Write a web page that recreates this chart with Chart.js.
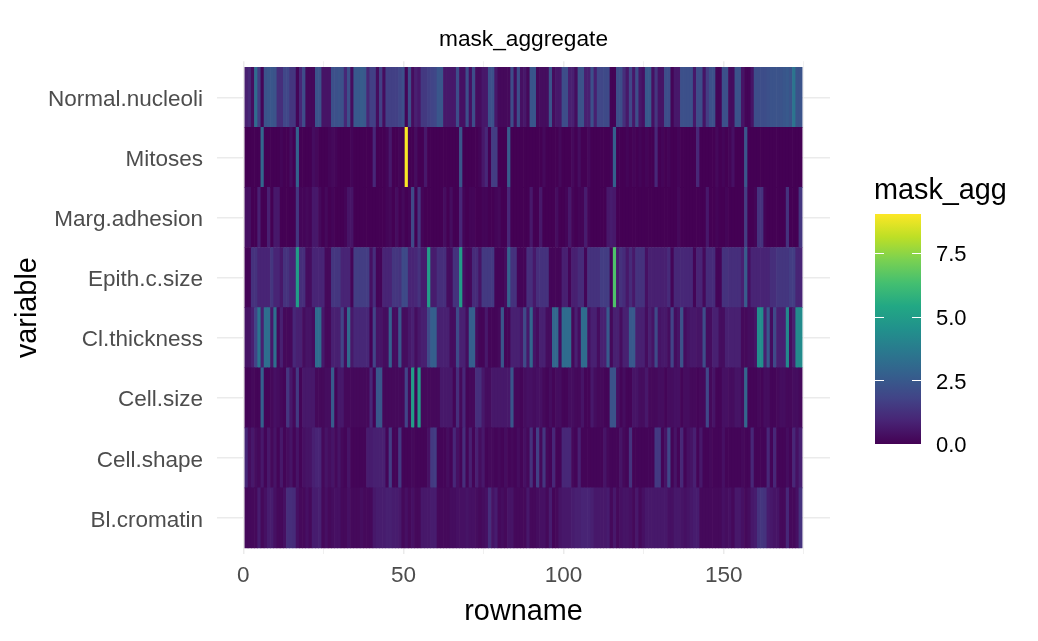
<!DOCTYPE html>
<html>
<head>
<meta charset="utf-8">
<style>
  html, body { margin: 0; padding: 0; background: #fff; }
  canvas { display: block; }
</style>
<script src="https://cdn.jsdelivr.net/npm/chart.js@4"></script>
</head>
<body>
<canvas id="chart" width="1038" height="641"></canvas>
<script>
const variables = ['Bl.cromatin','Cell.shape','Cell.size','Cl.thickness','Epith.c.size','Marg.adhesion','Mitoses','Normal.nucleoli'];
const xTickLabels = [0, 50, 100, 150];
const legendTicks = [0, 2.5, 5, 7.5];

const blCromatin = [
  .2,.2,.2,.2,.7,.2,.4,.7,.7,.4,
  .2,.2,.4,1.2,1.2,1.1,.4,.2,.2,.4,
  .2,.7,.7,.8,.2,.4,.2,.3,.4,.4,
  .2,.2,.4,.2,.2,.2,.3,.2,.2,.2,
  .6,.7,.7,.7,.8,.8,.7,.7,.6,.2,
  .4,.2,.4,.2,.2,.6,.6,.6,.7,.7,
  .2,.2,.2,.2,.3,.3,.4,.4,.4,.5,
  .4,.4,.3,.2,.3,.4,1.2,.5,.7,.2,
  .3,.2,.5,.5,.2,.2,.2,.2,.6,.2,
  .2,.3,.4,.4,.2,.7,.1,.2,.5,.6,
  .6,.6,.7,.8,.8,.9,.9,.9,.8,.6,
  .6,.6,.6,.7,.2,.6,.2,.4,.5,.5,
  .4,.2,.6,.2,.4,.6,.6,.6,.6,.6,
  .6,.6,.4,.4,.6,.6,.5,.4,.5,.6,
  .7,.7,.2,.2,.2,.2,.2,.2,.2,.4,
  .3,.4,.2,.6,.6,.4,.2,.3,.6,.7,
  1.3,1.4,1.3,.7,.6,.5,.5,.2,.2,1,
  .2,.2,.4,1.3
];
const cellShape = [
  1,.3,.6,.3,.2,.6,.1,.6,.2,.5,
  .1,.6,.1,.3,.5,.1,.5,.1,.4,.5,
  .5,.8,.9,.9,.2,.5,.3,.5,.2,.5,
  .2,.1,.5,.1,.1,.1,.1,.1,.7,.7,
  .8,.8,.8,.8,.1,1.6,.1,.1,1.5,.1,
  .1,.1,.2,.1,.1,.1,.1,.4,1.5,1.6,
  .1,.1,.1,.3,.1,1,.4,.1,1.2,.1,
  .8,.1,.8,.3,.6,.1,.2,.2,.1,.2,
  .1,.3,.1,.2,.1,.3,.1,.4,.2,1.3,
  .1,1.7,.2,1.4,.2,.1,1,.1,.1,1,
  1,1,.2,.1,.8,.1,.1,.1,.1,.1,
  .1,.1,.5,.2,.1,.1,.1,.5,.2,.1,
  1.3,.1,.1,.1,.1,.1,.1,.1,1.5,1.5,
  .1,.5,1.9,.1,.5,.1,1,.1,.4,.5,
  .8,.1,.6,.1,.1,.2,.1,.1,.1,.4,
  .1,.1,.1,.1,.1,.2,.1,.1,1,.1,
  .1,.1,.1,1,.1,1,.1,.1,.1,.3,
  .1,1,.4,.8
];
const cellSize = [
  .1,.1,.2,.1,.1,2.8,.1,.1,.2,.4,
  .3,.2,.1,1.4,.6,.2,1.5,.1,.6,.6,
  .6,.6,.2,.2,.2,.3,.3,2.6,.1,.6,
  .6,.2,.2,.2,.2,.2,.2,.2,.2,1,
  .05,2.4,2.4,.2,.2,.2,.2,.2,.2,.2,
  1.8,.2,5,.1,5,.2,.2,.2,.2,.2,
  .2,.6,.6,.6,.6,.1,1.2,.2,1,.1,
  .2,.2,1.2,1.2,.6,.3,.3,.6,.6,.6,
  .6,.6,.6,2.4,.2,.2,.1,.3,.4,.4,
  .3,.4,.4,.2,.1,.3,.1,.3,.3,.1,
  .1,.3,.3,.2,.2,.5,.1,.1,.6,.3,
  .2,.2,.1,.1,2.3,2.3,.4,.1,.3,.1,
  .1,.5,.5,.3,.3,.6,.2,.2,.2,.3,
  .3,.1,.3,.3,.4,.4,.1,.3,.3,.2,
  .2,.1,.2,.2,1.9,.2,.5,.1,.1,.4,
  .4,.3,.3,.5,.5,.3,3,.1,.1,.1,
  .2,.1,.3,.3,.1,.1,.2,.3,.3,.2,
  .2,.3,.3,.2
];
const clThickness = [
  .5,.5,.8,1.8,3.5,.8,3.3,3.3,.6,3.3,
  .2,.8,.2,.2,.2,1,.8,.8,.3,.5,
  .5,.3,3.2,3.2,.6,.2,.2,.8,.8,.8,
  1.8,.3,3.1,.6,1,1,1,1,1,.05,
  1.8,.5,.5,.3,.3,2.8,.3,.3,2.4,.3,
  .3,.6,.8,.3,.6,.8,.8,2,2.7,2.7,
  .8,.8,.8,.8,.3,.3,2,.8,.8,.3,
  2.7,2.7,.3,.1,.1,.6,.1,.1,.1,.2,
  2.4,.1,.1,.8,.8,.8,.6,2,.6,3,
  .5,.3,.8,.8,.3,.3,3,3,.3,3.2,
  3.2,3.2,.2,.8,.3,3.2,3.2,.4,.8,.8,
  .3,.8,.8,2.5,.2,.8,.8,.3,.8,.8,
  2.5,2.5,.8,.8,.8,.3,.8,.5,2,.5,
  .6,.6,.3,1.8,.3,.5,2.3,.3,.5,.6,
  .6,.5,.5,2.1,.3,.3,.8,.8,.3,.3,
  .8,.8,.8,.8,.8,.2,.2,.3,.3,.5,
  4.4,4.4,.8,2.4,.3,2,.8,.8,.8,4.2,
  .3,.8,4.3,4.3
];
const epithSize = [
  .1,.1,1.3,1.3,.9,.9,.9,.9,1.4,.9,
  .9,.6,1.3,1.3,.9,.9,5,1.2,1.2,.3,
  .3,.9,.9,.9,.9,.2,.2,1.4,1.4,1.4,
  .9,.9,.9,.1,1.6,1.6,1.6,1.6,1.6,.4,
  1.2,.1,.1,.9,.9,.9,1.4,1.4,1.3,2,
  2,.9,.9,1,1.3,.7,.7,5,.7,.7,
  1.2,1.2,1.2,.3,.3,1.3,1.3,5,.4,.2,
  .2,1.1,1.1,.5,1.5,1.5,1.5,1.5,.1,.1,
  .1,.3,2.8,1.3,1.3,.1,.1,.1,1.2,1.2,
  .6,1.2,1.3,1.3,1.3,.1,.1,.1,.1,.8,
  .8,.1,.8,.8,1.1,1.1,.1,1.3,1.3,1.3,
  1.3,1.6,1.6,1.6,.1,6.5,.7,1.3,1.1,.6,
  1.1,.6,1.3,1.3,1.3,.4,.8,.8,.8,.8,
  .8,.8,1.1,.1,1,1,1,1,1,1,
  .1,.9,.9,.2,1.1,1.1,1.1,.1,.1,1.3,
  1.3,1.2,1.2,1.2,1.2,.8,2.6,.4,.9,.9,
  .9,.9,.9,.9,1.2,1.2,1.4,1.4,1.4,1.4,
  1.6,1.6,.9,.9
];
const margAdhesion = [
  .4,.4,0,0,.8,0,0,.8,0,.6,
  .6,0,0,0,0,0,1.4,.1,.1,.2,
  .1,.6,.6,.2,0,.2,0,.1,0,0,
  0,.1,.5,.5,0,0,0,0,0,0,
  0,0,0,0,.1,.2,0,.3,0,.2,
  0,.1,2,0,1.4,.1,0,0,0,0,
  0,0,.3,0,.3,0,0,1,.1,0,
  .1,.1,0,0,.1,.1,0,0,.1,.2,
  0,0,1,0,0,0,0,0,0,.6,
  0,0,.6,0,0,0,0,.3,0,0,
  .1,.6,.1,0,.1,.1,.7,.1,0,0,
  0,0,0,.6,.7,.6,0,0,0,0,
  0,0,0,0,0,0,0,0,0,0,
  0,0,0,0,0,.2,0,0,0,0,
  0,0,0,0,.6,0,0,.1,0,0,
  .1,0,0,0,0,0,1.6,0,0,.1,
  1.3,1.3,.1,0,0,0,0,0,0,1.3,
  0,0,0,1.4
];
const mitoses = [
  0,0,0,0,0,3,0,0,0,0,
  0,.1,0,0,.3,0,2.8,0,0,0,
  0,.3,.2,0,0,0,.1,.2,.1,0,
  0,0,0,.1,0,0,0,0,0,0,
  1,0,0,0,.1,.6,0,0,.1,0,
  9,0,0,.3,0,0,.6,0,0,0,
  0,0,0,0,0,0,0,2.4,0,0,
  0,0,0,.1,.6,1,0,1.6,1.6,0,
  0,0,2.6,0,0,0,0,0,0,0,
  0,0,0,.2,0,0,0,0,.2,0,
  0,0,.2,0,.3,0,0,.2,0,0,
  0,0,0,0,.1,2.8,0,0,0,.1,
  0,.1,0,.1,0,.1,0,0,1,0,
  .1,0,.1,0,0,.1,0,0,0,0,
  0,1,0,0,0,0,0,.2,0,.1,
  0,.1,.4,0,0,0,2.4,0,0,0,
  0,0,0,0,0,0,0,0,0,0,
  0,0,0,0
];
const normalNucleoli = [
  .8,1,.3,3.2,1.6,.1,2.3,2.4,2.4,2.3,
  1.2,1.2,1.9,1.9,1.4,1.4,.1,1,2.1,.2,
  .2,.2,2.3,2.3,.5,.5,.5,2.2,2.2,2.3,
  2.2,1,2.2,.3,2.5,2.5,2.6,2.5,1,1.7,
  1.7,.3,1.7,.3,1.7,1.7,1.7,1.7,1.9,2.2,
  .1,2.1,.3,.8,.6,1.5,1.5,1.7,1.8,1.9,
  2.4,2.4,.6,.6,.6,.6,2.1,.4,.4,2.1,
  .4,2.1,.3,.3,.6,.6,2.2,2.2,.6,.2,
  .2,.2,.2,2.1,.3,2.1,.4,.6,.2,2.4,
  2.4,.2,.3,.3,.3,2.3,.3,.6,.6,2.1,
  2.1,.8,.8,.3,2.3,2.3,.8,.8,2.2,.8,
  1.9,1.9,2,2,.05,.05,2.1,2.1,1.2,.6,
  1.9,.6,2.1,.6,.4,2.5,2.5,.4,1.4,.5,
  .5,2.1,2.1,.1,.6,.6,2.2,2.2,2.2,2.2,
  .6,2.1,2.1,.5,1.6,2.2,2.2,.1,.1,2.2,
  2.2,.3,.3,2.3,2.3,.5,.1,.1,.5,2.1,
  2.1,2.1,2.1,2.2,2.3,2.3,2.3,2.3,2.4,2.5,
  2.3,3.5,2.3,2.3
];
const rows = [blCromatin, cellShape, cellSize, clThickness, epithSize, margAdhesion, mitoses, normalNucleoli];

const viridis = ['#440154','#482475','#414487','#355f8d','#2a788e','#21918c','#22a884','#44bf70','#7ad151','#bddf26','#fde725'];
const maxValue = 9.05;

function hexToRgb(h) {
  return [1, 3, 5].map(i => parseInt(h.slice(i, i + 2), 16));
}

function colorFor(v) {
  const t = Math.min(v / maxValue, 1) * (viridis.length - 1);
  const i = Math.min(Math.floor(t), viridis.length - 2);
  const a = hexToRgb(viridis[i]);
  const b = hexToRgb(viridis[i + 1]);
  const f = t - i;
  return `rgb(${a.map((c, k) => Math.round(c + (b[k] - c) * f)).join(',')})`;
}

const FONT = '"Liberation Sans", Arial, sans-serif';

// colour bar on the right, ggplot style
const colorbar = {
  id: 'colorbar',
  afterDraw(chart) {
    const c = chart.ctx;
    const left = 875, width = 46, top = 214, bottom = 444;
    const yFor = v => bottom - (v / maxValue) * (bottom - top);
    c.save();
    const grad = c.createLinearGradient(0, bottom, 0, top);
    viridis.forEach((col, i) => grad.addColorStop(i / (viridis.length - 1), col));
    c.fillStyle = grad;
    c.fillRect(left, top, width, bottom - top);
    c.strokeStyle = '#fff';
    c.lineWidth = 1;
    legendTicks.forEach(v => {
      const y = Math.round(yFor(v)) + 0.5;
      if (v > 0) {
        c.beginPath();
        c.moveTo(left, y); c.lineTo(left + 9, y);
        c.moveTo(left + width - 9, y); c.lineTo(left + width, y);
        c.stroke();
      }
    });
    c.fillStyle = '#000';
    c.textBaseline = 'middle';
    c.font = `22px ${FONT}`;
    legendTicks.forEach(v => c.fillText(v.toFixed(1), 936, yFor(v) + 2));
    c.font = `28.8px ${FONT}`;
    c.fillText('mask_agg', 874, 191);
    c.restore();
  }
};

const datasets = rows.map((vals, r) => ({
  label: variables[r],
  data: vals.map((v, i) => ({ x: i + 1, y: [r + 0.5, r + 1.5] })),
  backgroundColor: vals.map(colorFor),
  borderWidth: 0,
  grouped: false,
  barPercentage: 1,
  categoryPercentage: 1
}));

new Chart(document.getElementById('chart'), {
  type: 'bar',
  data: { datasets },
  plugins: [colorbar],
  options: {
    responsive: false,
    animation: false,
    devicePixelRatio: 1,
    layout: { padding: { top: 23, right: 208, left: 0, bottom: 0 } },
    plugins: {
      legend: { display: false },
      tooltip: { enabled: false },
      title: {
        display: true,
        text: 'mask_aggregate',
        fullSize: false,
        color: '#000',
        font: { family: FONT, size: 22.7, weight: 'normal' },
        padding: { top: 3, bottom: 8 }
      }
    },
    scales: {
      x: {
        type: 'linear',
        offset: false,
        min: -8.2,
        max: 183.2,
        afterBuildTicks: s => { s.ticks = [0, 25, 50, 75, 100, 125, 150, 175].map(value => ({ value })); },
        afterFit: s => { s.height = 87; },
        border: { display: false },
        grid: {
          offset: false,
          drawTicks: false,
          color: '#ebebeb',
          lineWidth: ctx => (ctx.tick && xTickLabels.includes(ctx.tick.value)) ? 1.5 : 0.75
        },
        ticks: {
          autoSkip: false,
          maxRotation: 0,
          padding: 8,
          color: '#4d4d4d',
          font: { family: FONT, size: 22.5 },
          callback: v => xTickLabels.includes(v) ? String(v) : ''
        },
        title: {
          display: true,
          text: 'rowname',
          color: '#000',
          font: { family: FONT, size: 28.8 },
          padding: { top: 8, bottom: 12 }
        }
      },
      y: {
        type: 'linear',
        min: 0.4,
        max: 8.6,
        afterBuildTicks: s => { s.ticks = variables.map((_, i) => ({ value: i + 1 })); },
        afterFit: s => { s.width = 217; },
        border: { display: false },
        grid: { drawTicks: false, color: '#ebebeb', lineWidth: 1.5 },
        ticks: {
          autoSkip: false,
          padding: 14,
          labelOffset: 2.5,
          color: '#4d4d4d',
          font: { family: FONT, size: 22.5 },
          callback: v => variables[v - 1]
        },
        title: {
          display: true,
          text: 'variable',
          color: '#000',
          font: { family: FONT, size: 28.8 },
          padding: { top: 11, bottom: 0 }
        }
      }
    }
  }
});
</script>
</body>
</html>
